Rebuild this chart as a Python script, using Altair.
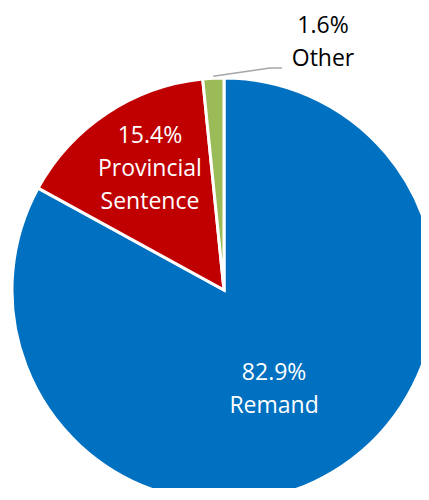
import math
import altair as alt
import pandas as pd

categories = ["Remand", "Provincial Sentence", "Other"]
values = [82.9, 15.4, 1.6]
label_lines = [["82.9%", "Remand"], ["15.4%", "Provincial", "Sentence"], ["1.6%", "Other"]]
colors = ["#0070C0", "#C00000", "#9BBB59"]

df = pd.DataFrame({
    "category": categories,
    "value": values,
    "order": list(range(len(categories))),
    "label": ["\n".join(l) for l in label_lines],
})

CX, CY, R = 216, 282, 212
FONT = "Open Sans"
LH = 33

base = alt.Chart(df).encode(
    theta=alt.Theta("value:Q", stack=True),
    order=alt.Order("order:Q"),
    x=alt.value(CX),
    y=alt.value(CY),
)

arc = base.mark_arc(outerRadius=R, stroke="white", strokeWidth=3).encode(
    color=alt.Color("category:N", scale=alt.Scale(domain=categories, range=colors), legend=None)
)

text_style = dict(font=FONT, fontSize=23, lineBreak="\n", lineHeight=LH,
                  baseline="middle", align="center")

remand_lab = base.transform_calculate(
    lab=f"datum.category == '{categories[0]}' ? datum.label : ''"
).mark_text(radius=116, dx=-9, dy=-LH / 2, color="white", **text_style).encode(text="lab:N")

prov_lab = base.transform_calculate(
    lab=f"datum.category == '{categories[1]}' ? datum.label : ''"
).mark_text(radius=145, dx=6, dy=-LH, color="white", **text_style).encode(text="lab:N")

# leader line for the small "Other" slice, starting at the slice's mid-angle
total = sum(values)
mid = (values[0] + values[1] + values[2] / 2) / total * 2 * math.pi
sx = CX + (R + 2) * math.sin(mid)
sy = CY - (R + 2) * math.cos(mid)
leader = pd.DataFrame({"px": [sx, 262, 274], "py": [sy, 60, 60], "i": [0, 1, 2]})
line = alt.Chart(leader).mark_line(color="#A6A6A6", strokeWidth=1.5).encode(
    x=alt.X("px:Q", scale=None, axis=None),
    y=alt.Y("py:Q", scale=None, axis=None),
    order="i:Q",
)

other = alt.Chart(df[df["category"] == categories[2]]).mark_text(
    color="black", **text_style
).encode(text="label:N", x=alt.value(315), y=alt.value(17.5))

chart = alt.layer(arc, remand_lab, prov_lab, line, other).properties(
    width=413, height=480, padding=0, autosize=alt.AutoSizeParams(type="none")
).configure_view(stroke=None)

chart.save("out.html", embed_options={"renderer": "svg", "actions": False})
